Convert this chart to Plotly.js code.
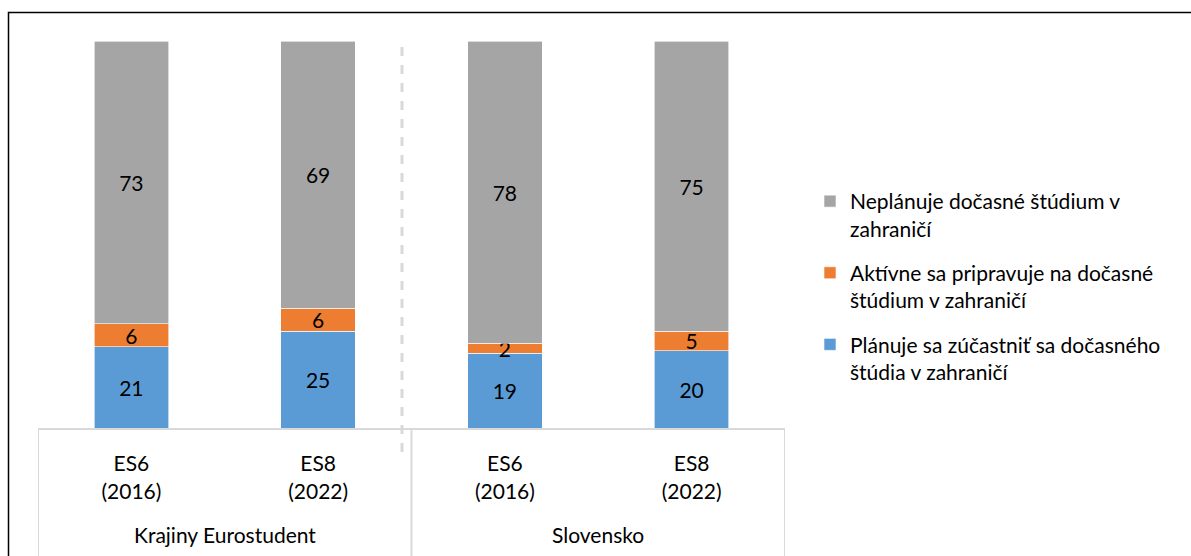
<!DOCTYPE html>
<html>
<head>
<meta charset="utf-8">
<script src="https://cdn.plot.ly/plotly-3.0.1.min.js"></script>
<style>
html,body{margin:0;padding:0;background:#fff;}
#chart{width:1191px;height:556px;}
</style>
</head>
<body>
<div id="chart"></div>
<script>
// Data
const groupNames = ["Krajiny Eurostudent", "Slovensko"];
const groups = ["Krajiny Eurostudent", "Krajiny Eurostudent", "Slovensko", "Slovensko"];
const waves = ["ES6<br>(2016)", "ES8<br>(2022)", "ES6<br>(2016)", "ES8<br>(2022)"];
const planuje = [21, 25, 19.3, 20];
const aktivne = [6, 6, 2.6, 5];
const neplanuje = [73, 69, 78.1, 75];
const planujeLabels = ["21", "25", "19", "20"];
const aktivneLabels = ["6", "6", "2", "5"];
const neplanujeLabels = ["73", "69", "78", "75"];
const seriesNames = [
  "Plánuje sa zúčastniť sa dočasného<br>štúdia v zahraničí",
  "Aktívne sa pripravuje na dočasné<br>štúdium v zahraničí",
  "Neplánuje dočasné štúdium v<br>zahraničí"
];
const colors = ["#5b9bd5", "#ed7d31", "#a5a5a5"];

const FONT = "Lato, 'Open Sans', sans-serif";
const FS = 21;
const cats = groups.map((g, i) => g + " | " + waves[i].replace("<br>", " "));

function mk(vals, labels, i) {
  return {
    type: "bar",
    x: cats,
    y: vals,
    name: seriesNames[i],
    legendgroup: "g" + i,
    legendrank: 1000 - i * 100,
    marker: {color: colors[i], line: {color: "#ffffff", width: 0.6}},
    text: labels,
    textposition: "inside",
    insidetextanchor: "middle",
    textangle: 0,
    constraintext: "none",
    textfont: {family: FONT, size: FS, color: "#000000"},
    hoverinfo: "y+name"
  };
}

const data = [
  mk(planuje, planujeLabels, 0),
  mk(aktivne, aktivneLabels, 1),
  mk(neplanuje, neplanujeLabels, 2)
];

const plotL = 38, plotR = 785, plotT = 41, plotB = 428;
const W = 1191, H = 556;
const pw = plotR - plotL, ph = plotB - plotT;
const px = v => (v - plotL) / pw;
const py = v => (plotB - v) / ph;

const shapes = [
  // dashed separator
  {type: "line", xref: "paper", yref: "paper", x0: px(402), x1: px(402), y0: py(452), y1: 1,
   line: {color: "#d9d9d9", width: 3, dash: "dash"}, layer: "above"},
  // outer frame
  {type: "rect", xref: "paper", yref: "paper", x0: px(8.5), x1: px(1300), y0: py(700), y1: py(12.5),
   line: {color: "#000000", width: 1.5}, fillcolor: "rgba(0,0,0,0)", layer: "below"}
];
// category group dividers
[-0.5, 1.5, 3.5].forEach(v => shapes.push({
  type: "line", xref: "x", yref: "paper", x0: v, x1: v, y0: 0, y1: py(560),
  line: {color: "#d9d9d9", width: 2}, layer: "below"
}));

const annotations = groupNames.map((g, k) => ({
  xref: "x", yref: "paper", x: 0.5 + 2 * k, y: py(534),
  text: g, showarrow: false, xanchor: "center", yanchor: "middle",
  font: {family: FONT, size: FS, color: "#000000"}
}));

const layout = {
  width: W, height: H,
  margin: {l: plotL, r: W - plotR, t: plotT, b: H - plotB, pad: 0},
  paper_bgcolor: "#ffffff",
  plot_bgcolor: "#ffffff",
  barmode: "stack",
  bargap: 0.6,
  font: {family: FONT, size: FS, color: "#000000"},
  showlegend: true,
  legend: {
    x: px(810), y: py(181), xanchor: "left", yanchor: "top",
    traceorder: "grouped",
    tracegroupgap: 14,
    valign: "top",
    font: {family: FONT, size: FS, color: "#000000"},
    bgcolor: "rgba(0,0,0,0)"
  },
  xaxis: {
    type: "category",
    range: [-0.5, 3.5],
    tickmode: "array", tickvals: cats, ticktext: waves,
    showline: true, linecolor: "#d9d9d9", linewidth: 2,
    ticks: "outside", ticklen: 16, tickcolor: "rgba(0,0,0,0)",
    showgrid: false,
    tickfont: {family: FONT, size: FS, color: "#000000"},
    fixedrange: true
  },
  yaxis: {
    range: [0, 100], visible: false, showgrid: false, zeroline: false, fixedrange: true
  },
  shapes: shapes,
  annotations: annotations
};

Plotly.newPlot("chart", data, layout, {displayModeBar: false, staticPlot: true});
</script>
</body>
</html>
